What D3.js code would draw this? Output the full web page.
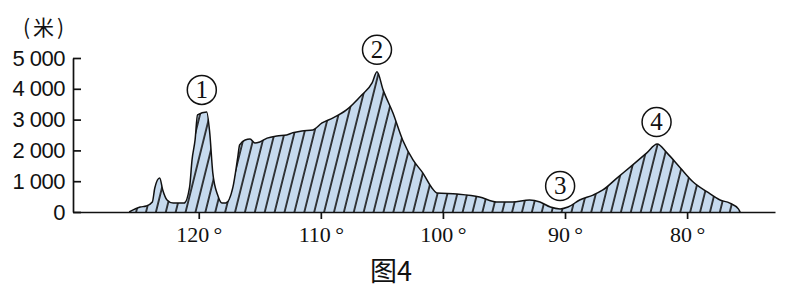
<!DOCTYPE html>
<html>
<head>
<meta charset="utf-8">
<script src="https://cdn.jsdelivr.net/npm/d3@7"></script>
<style>
  body { margin: 0; background: #fff; }
  svg { display: block; }
</style>
</head>
<body>
<div id="container"></div>
<script>
// profile data: longitude (°E) and elevation (m)
let lons = [125.7, 124.8, 124.3, 123.8, 123.6, 123.2, 122.95, 122.6, 122.1, 121.2, 120.75, 120.55, 120.3, 120.1,
  119.35, 119.1, 118.85, 118.45, 118.1, 117.8, 117.2, 116.8, 116.65, 116.2, 115.8, 115.4, 115.0, 114.4, 113.6,
  112.8, 112.3, 111.55, 110.65, 109.9, 109.0, 107.9, 106.65, 105.8, 105.4, 104.9, 104.1, 103.3, 102.45, 101.65,
  100.9, 100.5, 98.85, 97.0, 95.6, 94.3, 92.9, 92.05, 91.2, 90.4, 89.75, 88.8, 87.7, 86.9, 85.75, 84.45, 83.3,
  82.45, 81.65, 80.55, 79.5, 78.35, 77.3, 76.5, 75.8, 75.65];
let elev = [0, 160, 195, 325, 780, 1100, 715, 390, 290, 290, 810, 1690, 2340, 3150,
  3250, 2570, 1270, 550, 290, 290, 810, 1790, 2180, 2340, 2370, 2240, 2275, 2400, 2470,
  2500, 2570, 2630, 2665, 2890, 3055, 3315, 3800, 4190, 4550, 3965, 3220, 2340, 1690, 1270,
  780, 620, 585, 490, 325, 325, 390, 325, 160, 100, 160, 390, 550, 715, 1100, 1530, 1920,
  2210, 1920, 1430, 975, 650, 390, 290, 100, 0];

let yTicks = [0, 1000, 2000, 3000, 4000, 5000];
let xTicks = [120, 110, 100, 90, 80];

// circled peak markers
let peakNames = ["1", "2", "3", "4"];
let peakLons = [119.75, 105.4, 90.4, 82.5];
let peakElev = [3965, 5265, 845, 2925];

let w = 786;
let h = 293;

let viz = d3.select("#container")
  .append("svg")
    .attr("width", w)
    .attr("height", h)
;

let xScale = d3.scaleLinear().domain([130.3, 72.8]).range([73, 775]);
let yScale = d3.scaleLinear().domain([0, 5000]).range([212, 58]);

// hatch pattern: light blue with slanted dark lines
let defs = viz.append("defs");
let pat = defs.append("pattern")
    .attr("id", "hatch")
    .attr("patternUnits", "userSpaceOnUse")
    .attr("width", 9.6)
    .attr("height", 10)
    .attr("patternTransform", "rotate(14)")
;
pat.append("rect").attr("width", 9.6).attr("height", 10).attr("fill", "#c6daee");
pat.append("line")
    .attr("x1", 1).attr("y1", -1).attr("x2", 1).attr("y2", 11)
    .attr("stroke", "#111")
    .attr("stroke-width", 1.6)
;

let profile = lons.map(function(d, i){ return {lon: d, e: elev[i]}; });

let area = d3.area()
    .x(d => xScale(d.lon))
    .y0(yScale(0))
    .y1(d => yScale(d.e))
    .curve(d3.curveMonotoneX)
;
let line = d3.line()
    .x(d => xScale(d.lon))
    .y(d => yScale(d.e))
    .curve(d3.curveMonotoneX)
;

viz.append("path")
    .datum(profile)
    .attr("d", area)
    .attr("fill", "url(#hatch)")
;
viz.append("path")
    .datum(profile)
    .attr("d", line)
    .attr("fill", "none")
    .attr("stroke", "#111")
    .attr("stroke-width", 1.5)
;

// Y AXIS
let yAxis = d3.axisLeft(yScale)
    .tickValues(yTicks)
    .tickSizeInner(-8)
    .tickSizeOuter(0)
    .tickPadding(8)
    .tickFormat(d => d === 0 ? "0" : (d / 1000) + " 000")
;
let yAxisGroup = viz.append("g").attr("transform", "translate(73,0)").call(yAxis);
yAxisGroup.selectAll("text")
    .attr("font-family", "Liberation Sans, Arial, sans-serif")
    .attr("font-size", 22)
    .attr("letter-spacing", -0.5)
    .attr("fill", "#111")
;
yAxisGroup.selectAll("line,path").attr("stroke", "#111").attr("stroke-width", 1.7);

// X AXIS
let xAxis = d3.axisBottom(xScale)
    .tickValues(xTicks)
    .tickSizeInner(7)
    .tickSizeOuter(0)
    .tickPadding(7)
    .tickFormat(d => d + "\u2009°")
;
let xAxisGroup = viz.append("g").attr("transform", "translate(0,212)").call(xAxis);
xAxisGroup.selectAll("text")
    .attr("font-family", "Liberation Serif, Times New Roman, serif")
    .attr("font-size", 22)
    .attr("fill", "#111")
;
xAxisGroup.selectAll("line,path").attr("stroke", "#111").attr("stroke-width", 1.7);

// unit label
viz.append("text")
    .attr("x", 45).attr("y", 35)
    .attr("text-anchor", "middle")
    .attr("font-family", "Noto Sans CJK SC, sans-serif")
    .attr("font-size", 21)
    .attr("letter-spacing", 3)
    .attr("fill", "#111")
    .text("(米)")
;

// caption
viz.append("text")
    .attr("x", 391).attr("y", 281)
    .attr("text-anchor", "middle")
    .attr("font-family", "Noto Sans CJK SC, sans-serif")
    .attr("font-size", 27)
    .attr("fill", "#111")
    .text("图4")
;

// circled numbers
let marks = viz.selectAll(".peak").data(peakNames).enter()
  .append("g")
    .classed("peak", true)
    .attr("transform", (d, i) => "translate(" + xScale(peakLons[i]) + "," + yScale(peakElev[i]) + ")")
;
marks.append("circle")
    .attr("r", 14.5)
    .attr("fill", "#fff")
    .attr("stroke", "#111")
    .attr("stroke-width", 1.5)
;
marks.append("text")
    .attr("y", 8.5)
    .attr("text-anchor", "middle")
    .attr("font-family", "Liberation Serif, Times New Roman, serif")
    .attr("font-size", 25)
    .attr("fill", "#111")
    .text(d => d)
;
</script>
</body>
</html>
